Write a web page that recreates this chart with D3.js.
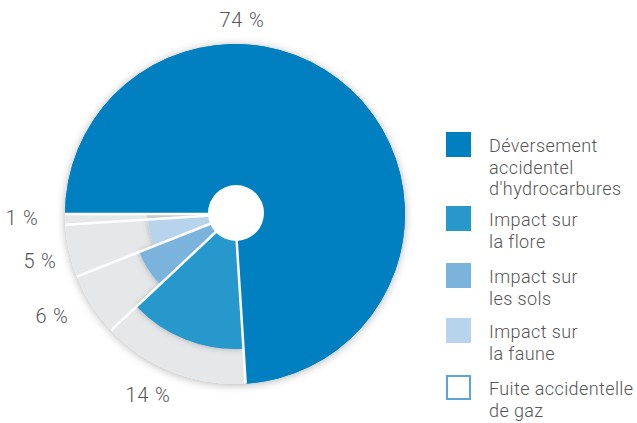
<!DOCTYPE html>
<html><head><meta charset="utf-8">
<script src="https://cdn.jsdelivr.net/npm/d3@7"></script>
<style>body{margin:0;background:#fff}svg{display:block}</style>
</head><body>
<svg id="c" width="637" height="423"></svg>
<script>
const categories = ["Déversement accidentel d'hydrocarbures","Impact sur la flore","Impact sur les sols","Impact sur la faune","Fuite accidentelle de gaz"];
const legendLines = [["Déversement","accidentel","d'hydrocarbures"],["Impact sur","la flore"],["Impact sur","les sols"],["Impact sur","la faune"],["Fuite accidentelle","de gaz"]];
const values = [74,14,6,5,1];
const labels = ["74 %","14 %","6 %","5 %","1 %"];
const colors = ["#0080c0","#2898cc","#7ab4dc","#b8d3ec","#ffffff"];

const svg = d3.select("#c");
const cx = 235, cy = 214, R = 170;
const defs = svg.append("defs");
const f = defs.append("filter").attr("id","sh").attr("x","-20%").attr("y","-20%").attr("width","140%").attr("height","140%");
f.append("feDropShadow").attr("dx",0).attr("dy",1).attr("stdDeviation",4).attr("flood-color","#000").attr("flood-opacity",0.3);
const f2 = defs.append("filter").attr("id","sh2").attr("x","-20%").attr("y","-20%").attr("width","140%").attr("height","140%");
f2.append("feDropShadow").attr("dx",0).attr("dy",0).attr("stdDeviation",3).attr("flood-color","#000").attr("flood-opacity",0.25);

const pie = d3.pie().sort(null).value(d=>d).startAngle(-Math.PI/2).endAngle(3*Math.PI/2);
const arcs = pie(values);
const rScale = d3.scaleOrdinal().domain(d3.range(5)).range([R,135,103,87,0]);
const g = svg.append("g").attr("transform",`translate(${cx},${cy})`);

const outer = d3.arc().innerRadius(0).outerRadius(R);
g.append("g").attr("filter","url(#sh)").selectAll("path").data(arcs).join("path")
  .attr("d",outer).attr("fill",(d,i)=>i===0?colors[0]:"#e6e7e9");

const inner = g.append("g").attr("filter","url(#sh2)");
inner.selectAll("path").data(arcs.slice(1,4)).join("path")
  .attr("d",(d,i)=>d3.arc().innerRadius(0).outerRadius(rScale(i+1))(d))
  .attr("fill",(d,i)=>colors[i+1]);
g.append("path").datum(arcs[4])
  .attr("d",d3.arc().innerRadius(28).outerRadius(88)(arcs[4]))
  .attr("fill","#c9cacc");
g.append("path").datum(arcs[0]).attr("d",outer).attr("fill",colors[0]);

g.selectAll("line.sep").data(arcs).join("line").attr("class","sep")
  .attr("x1",0).attr("y1",0)
  .attr("x2",d=>R*Math.sin(d.startAngle)).attr("y2",d=>-R*Math.cos(d.startAngle))
  .attr("stroke","#fff").attr("stroke-width",2.5);

g.append("circle").attr("cx",1).attr("cy",-1).attr("r",28).attr("fill","#fff");

const labelPos = [[242,20],[148,395],[52,316],[40,261],[22,218]];
svg.selectAll("text.val").data(labels).join("text").attr("class","val")
  .attr("x",(d,i)=>labelPos[i][0]).attr("y",(d,i)=>labelPos[i][1]+7)
  .attr("text-anchor","middle").attr("font-family","Roboto, sans-serif").attr("font-weight",300)
  .attr("font-size",20).attr("letter-spacing",0.8).attr("fill","#555").text(d=>d);

const tops = [132,206,263,318,375];
const lg = svg.append("g");
legendLines.forEach((lines,i)=>{
  if(i===4){
    lg.append("rect").attr("x",447).attr("y",tops[i]+1).attr("width",23).attr("height",23)
      .attr("fill","#fff").attr("stroke","#5aa6d8").attr("stroke-width",2);
  } else {
    lg.append("rect").attr("x",446).attr("y",tops[i]).attr("width",25).attr("height",25).attr("fill",colors[i]);
  }
  const t = lg.append("text").attr("x",489).attr("y",tops[i]+20)
    .attr("font-family","Roboto, sans-serif").attr("font-weight",300).attr("font-size",18)
    .attr("letter-spacing",0.4).attr("fill","#555");
  lines.forEach((l,j)=>t.append("tspan").attr("x",489).attr("dy",j===0?0:21.5).text(l));
});
</script>
</body></html>
